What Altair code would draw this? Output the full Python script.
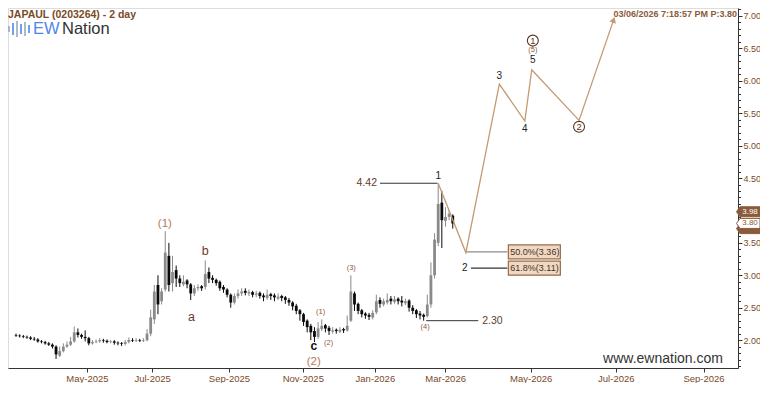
import json
import altair as alt
import pandas as pd

# ---------------- data (2-day bars, bar index = session number) ----------------
first_bar = 3
opens = [2.08, 2.07, 2.06, 2.05, 2.04, 2.02, 2.01, 1.98, 1.97, 1.95,
         1.93, 1.90, 1.76, 1.83, 1.90, 1.93, 1.98, 2.12, 2.08, 2.05,
         2.03, 1.95, 1.97, 1.98, 2.00, 1.99, 1.97, 1.98, 1.96, 1.95,
         1.94, 1.97, 2.00, 1.99, 2.00, 1.99, 2.00, 2.10, 2.32, 2.85,
         2.60, 2.78, 3.30, 2.88, 3.08, 2.95, 2.86, 2.92, 2.86, 2.72,
         2.80, 2.83, 2.82, 3.05, 2.96, 2.93, 2.90, 2.82, 2.78, 2.70,
         2.58, 2.68, 2.72, 2.76, 2.72, 2.74, 2.70, 2.73, 2.69, 2.65,
         2.71, 2.69, 2.64, 2.68, 2.66, 2.62, 2.58, 2.53, 2.46, 2.40,
         2.30, 2.22, 2.14, 2.05, 2.17, 2.23, 2.19, 2.13, 2.16, 2.13,
         2.17, 2.15, 2.30, 2.72, 2.56, 2.46, 2.41, 2.39, 2.35, 2.43,
         2.62, 2.55, 2.58, 2.64, 2.59, 2.64, 2.61, 2.57, 2.61, 2.50,
         2.46, 2.41, 2.39, 2.37, 2.55, 3.00, 3.50, 4.12, 3.84, 3.90,
         3.92]
highs = [2.10, 2.09, 2.08, 2.07, 2.06, 2.05, 2.03, 2.00, 1.99, 1.97,
         1.95, 1.92, 1.90, 1.95, 1.98, 2.05, 2.21, 2.18, 2.10, 2.15,
         2.05, 2.00, 2.01, 2.03, 2.02, 2.01, 2.00, 2.00, 1.98, 1.97,
         2.00, 2.04, 2.03, 2.03, 2.02, 2.03, 2.17, 2.47, 2.85, 3.00,
         2.80, 3.68, 3.50, 3.30, 3.15, 3.00, 3.00, 2.94, 2.88, 2.85,
         2.86, 2.85, 3.23, 3.12, 3.00, 2.95, 2.92, 2.85, 2.80, 2.72,
         2.72, 2.78, 2.80, 2.80, 2.78, 2.76, 2.76, 2.75, 2.72, 2.78,
         2.73, 2.72, 2.72, 2.70, 2.68, 2.65, 2.60, 2.56, 2.48, 2.42,
         2.32, 2.25, 2.20, 2.28, 2.32, 2.25, 2.22, 2.20, 2.18, 2.20,
         2.19, 2.38, 3.00, 2.75, 2.58, 2.48, 2.43, 2.42, 2.46, 2.70,
         2.66, 2.64, 2.72, 2.68, 2.68, 2.66, 2.68, 2.64, 2.63, 2.54,
         2.48, 2.45, 2.41, 2.70, 3.20, 3.65, 4.42, 4.30, 4.05, 4.00,
         3.94]
lows = [2.05, 2.04, 2.03, 2.02, 2.00, 1.99, 1.96, 1.95, 1.93, 1.91,
        1.87, 1.71, 1.74, 1.81, 1.88, 1.91, 1.96, 2.04, 2.02, 1.98,
        1.92, 1.93, 1.95, 1.96, 1.96, 1.95, 1.95, 1.93, 1.92, 1.91,
        1.92, 1.95, 1.97, 1.97, 1.97, 1.97, 1.98, 2.06, 2.25, 2.40,
        2.55, 2.75, 2.75, 2.75, 2.82, 2.82, 2.83, 2.80, 2.62, 2.68,
        2.76, 2.76, 2.78, 2.88, 2.88, 2.84, 2.76, 2.73, 2.66, 2.50,
        2.55, 2.64, 2.68, 2.69, 2.68, 2.66, 2.66, 2.64, 2.60, 2.62,
        2.62, 2.60, 2.62, 2.60, 2.56, 2.53, 2.46, 2.40, 2.30, 2.22,
        2.12, 2.00, 1.97, 2.02, 2.14, 2.12, 2.08, 2.10, 2.10, 2.11,
        2.11, 2.13, 2.28, 2.45, 2.40, 2.35, 2.33, 2.31, 2.32, 2.40,
        2.50, 2.52, 2.55, 2.55, 2.56, 2.55, 2.52, 2.54, 2.44, 2.40,
        2.34, 2.32, 2.30, 2.35, 2.50, 2.95, 3.45, 3.42, 3.75, 3.85,
        3.72]
closes = [2.07, 2.06, 2.05, 2.04, 2.02, 2.01, 1.98, 1.97, 1.95, 1.93,
          1.90, 1.78, 1.83, 1.90, 1.93, 1.98, 2.12, 2.08, 2.05, 2.03,
          1.95, 1.97, 1.98, 2.00, 1.99, 1.97, 1.98, 1.96, 1.95, 1.94,
          1.97, 2.00, 1.99, 2.00, 1.99, 2.00, 2.10, 2.35, 2.75, 2.55,
          2.75, 3.35, 2.85, 3.05, 2.95, 2.88, 2.90, 2.86, 2.72, 2.80,
          2.82, 2.80, 3.02, 2.95, 2.93, 2.88, 2.80, 2.78, 2.70, 2.58,
          2.68, 2.72, 2.75, 2.73, 2.74, 2.70, 2.72, 2.68, 2.66, 2.70,
          2.68, 2.66, 2.67, 2.65, 2.62, 2.58, 2.52, 2.45, 2.40, 2.28,
          2.20, 2.12, 2.05, 2.18, 2.22, 2.18, 2.14, 2.15, 2.14, 2.16,
          2.15, 2.22, 2.75, 2.55, 2.45, 2.40, 2.38, 2.36, 2.42, 2.60,
          2.56, 2.60, 2.62, 2.60, 2.63, 2.60, 2.58, 2.60, 2.50, 2.45,
          2.40, 2.38, 2.36, 2.55, 3.00, 3.55, 4.10, 3.85, 3.90, 3.95,
          3.80]
bars = list(range(first_bar, first_bar + len(closes)))

month_ticks = [22.5, 40.4, 61.5, 81.8, 101.6, 120.9, 144.4, 167.8, 191.9]
month_labels = ["May-2025", "Jul-2025", "Sep-2025", "Nov-2025", "Jan-2026",
                "Mar-2026", "May-2026", "Jul-2026", "Sep-2026"]
price_ticks = [round(1.6 + 0.1 * k, 1) for k in range(56)]
hidden_price_label = 4.0  # covered by the price tags in the reference

# projected Elliott path
proj_bars = [119, 126.6, 135.8, 142.8, 144.7, 157.7, 167.2]
proj_prices = [4.42, 3.35, 5.95, 5.38, 6.17, 5.39, 6.94]

# level lines
level_labels = ["4.42", "2.30"]
level_prices = [4.42, 2.30]
level_from = [103.0, 115.7]
level_to = [118.8, 130.0]

fib_labels = ["50.0%(3.36)", "61.8%(3.11)"]
fib_prices = [3.36, 3.11]
fib_from = [126.6, 128.0]
fib_to = [138.0, 138.0]

# wave labels
big_w_text = ["(1)", "(2)"]
big_w_bar = [43.9, 84.8]
big_w_price = [3.79, 1.67]
small_w_text = ["(1)", "(2)", "(3)", "(4)", "(5)"]
small_w_bar = [86.7, 88.9, 95.1, 115.4, 145.0]
small_w_price = [2.44, 1.95, 3.11, 2.20, 6.47]
abc_text = ["a", "b"]
abc_bar = [51.2, 55.0]
abc_price = [2.36, 3.38]
c_text = ["c"]
c_bar = [84.8]
c_price = [1.91]
num_text = ["1", "2", "3", "4", "5"]
num_bar = [119.0, 126.3, 135.8, 142.8, 145.0]
num_price = [4.53, 3.12, 6.08, 5.26, 6.32]
circ_text = ["1", "2"]
circ_bar = [145.0, 157.7]
circ_price = [6.62, 5.29]

hidden_tag = [3.72]
top_tags = [3.98, 3.80]
top_tag_style = ["fill", "open"]

# ---------------- styling ----------------
FONT = "Liberation Sans"
BROWN = "#7a4a28"
TAN = "#c49a72"
W, H = 730, 360

xs = alt.Scale(domain=[2.17, 200], nice=False, zero=False)
ys = alt.Scale(domain=[1.57, 7.123], nice=False, zero=False)

half_test = "abs(datum.value*2 - round(datum.value*2)) < 0.001"
xaxis = alt.Axis(
    values=month_ticks,
    labelExpr=f"{json.dumps(month_labels)}[indexof({json.dumps(month_ticks)}, datum.value)]",
    title=None, grid=False, tickSize=4, tickColor="#333", domainColor="#333",
    labelColor=BROWN, labelFontSize=9.5, labelFont=FONT, labelPadding=1,
    labelOverlap=False, labelFlush=False,
)
yaxis = alt.Axis(
    orient="right", values=price_ticks,
    labelExpr=(f"({half_test}) && abs(datum.value - {hidden_price_label}) > 0.001"
               " ? format(datum.value, '.2f') : ''"),
    tickSize={"condition": {"test": half_test, "value": 4}, "value": 2.5},
    title=None, grid=False, tickColor="#333", domainColor="#333",
    labelColor=BROWN, labelFontSize=9, labelFont=FONT, labelPadding=1,
    labelOverlap=False, labelFlush=False,
)


def X(f):
    return alt.X(f, type="quantitative", scale=xs, axis=xaxis)


def Y(f):
    return alt.Y(f, type="quantitative", scale=ys, axis=yaxis)


candles = pd.DataFrame({"bar": bars, "open": opens, "high": highs,
                        "low": lows, "close": closes})
candles["dir"] = ["up" if c >= o else "down" for o, c in zip(opens, closes)]
col = alt.Color("dir:N", scale=alt.Scale(domain=["up", "down"],
                                         range=["#8a8a8a", "#0a0a0a"]), legend=None)

base = alt.Chart(candles)
wicks = base.mark_rule(strokeWidth=1).encode(x=X("bar"), y=Y("low"), y2="high", color=col)
bodies = base.mark_bar(width=2.8).encode(x=X("bar"), y=Y("open"), y2="close", color=col)

levels = pd.DataFrame({"t": level_labels, "p": level_prices, "a": level_from, "b": level_to})
level_lines = alt.Chart(levels).mark_rule(color="#333", strokeWidth=1).encode(
    x=X("a"), x2="b", y=Y("p"))
level_txt_4 = alt.Chart(levels.iloc[[0]]).mark_text(
    align="right", baseline="middle", dx=-3, fontSize=10.5, font=FONT, color="#5e3d26"
).encode(x=X("a"), y=Y("p"), text="t:N")
level_txt_2 = alt.Chart(levels.iloc[[1]]).mark_text(
    align="left", baseline="middle", dx=4, fontSize=10.5, font=FONT, color="#5e3d26"
).encode(x=X("b"), y=Y("p"), text="t:N")

fibs = pd.DataFrame({"t": fib_labels, "p": fib_prices, "a": fib_from, "b": fib_to})
fib_lines = alt.Chart(fibs).mark_rule(strokeWidth=1.2).encode(
    x=X("a"), x2="b", y=Y("p"),
    color=alt.Color("t:N", scale=alt.Scale(domain=fib_labels, range=["#8a8a8a", "#333"]),
                    legend=None))
fib_txt = alt.Chart(fibs).mark_text(
    align="left", baseline="middle", dx=3, fontSize=9, font=FONT, color="#4a3020"
).encode(x=X("b"), y=Y("p"), text="t:N")
fib_rect = alt.Chart(fibs).mark_point(
    shape="M-1,-0.27L1,-0.27L1,0.27L-1,0.27Z", size=2704, filled=True,
    fill="#efd9c4", stroke="#9a6b48", strokeWidth=1.2, opacity=1, xOffset=27
).encode(x=X("b"), y=Y("p"))

proj = pd.DataFrame({"bar": proj_bars, "p": proj_prices})
proj_line = alt.Chart(proj).mark_line(color=TAN, strokeWidth=1.3).encode(x=X("bar"), y=Y("p"))
arrow = alt.Chart(proj.iloc[[-1]]).mark_point(
    shape="triangle-up", angle=19, size=45, filled=True, color=TAN, opacity=1
).encode(x=X("bar"), y=Y("p"))


def text_layer(texts, xb, yp, **kw):
    d = pd.DataFrame({"t": texts, "bar": xb, "p": yp})
    return alt.Chart(d).mark_text(baseline="middle", align="center", font=FONT, **kw).encode(
        x=X("bar"), y=Y("p"), text="t:N")


big_w = text_layer(big_w_text, big_w_bar, big_w_price, fontSize=11.5, color="#b27a52")
small_w = text_layer(small_w_text, small_w_bar, small_w_price, fontSize=7.5, color="#8a5a3a")
abc = text_layer(abc_text, abc_bar, abc_price, fontSize=12.5, color="#6b3a1e")
c_lab = text_layer(c_text, c_bar, c_price, fontSize=12, fontWeight="bold", color="#111")
nums = text_layer(num_text, num_bar, num_price, fontSize=10, color="#222")

circ = pd.DataFrame({"t": circ_text, "bar": circ_bar, "p": circ_price})
circ_pts = alt.Chart(circ).mark_point(
    shape="circle", size=120, filled=False, stroke="#5a3520", strokeWidth=1.1, opacity=1
).encode(x=X("bar"), y=Y("p"))
circ_txt = text_layer(circ_text, circ_bar, circ_price, fontSize=9.5, color="#5a3520")

# price tags on the right axis
TAG_X = W + 12
tag_shape = "M-1.35,0L-1,-0.5L1,-0.5L1,0.5L-1,0.5Z"
hid = pd.DataFrame({"v": hidden_tag})
hid_box = alt.Chart(hid).mark_point(
    shape=tag_shape, size=400, filled=True, opacity=1, fill="#8b5a3a",
    stroke="#8b5a3a", strokeWidth=1
).encode(x=alt.value(TAG_X), y=Y("v"))

tags = pd.DataFrame({"v": top_tags, "s": top_tag_style, "t": [f"{v:.2f}" for v in top_tags]})
tag_box = alt.Chart(tags).mark_point(
    shape=tag_shape, size=400, filled=True, opacity=1, stroke="#8b5a3a", strokeWidth=1
).encode(
    x=alt.value(TAG_X), y=Y("v"),
    fill=alt.Fill("s:N", scale=alt.Scale(domain=["fill", "open"], range=["#8b5a3a", "#ffffff"]),
                  legend=None),
)
tag_text = alt.Chart(tags).mark_text(
    baseline="middle", align="center", fontSize=8, font=FONT
).encode(
    x=alt.value(TAG_X), y=Y("v"), text="t:N",
    color=alt.Color("s:N", scale=alt.Scale(domain=["fill", "open"], range=["#ffffff", "#8b5a3a"]),
                    legend=None),
)

# header / branding
one = pd.DataFrame({"k": [0]})
title_txt = alt.Chart(one).mark_text(
    text="JAPAUL (0203264) - 2 day", align="left", baseline="middle",
    fontSize=10.5, fontWeight="bold", font=FONT, color=BROWN
).encode(x=alt.value(0), y=alt.value(7))
stamp_txt = alt.Chart(one).mark_text(
    text="03/06/2026 7:18:57 PM  P:3.80", align="right", baseline="middle",
    fontSize=9, fontWeight="bold", font=FONT, color="#8a5a3a"
).encode(x=alt.value(729), y=alt.value(6))
logo_ew = alt.Chart(one).mark_text(
    text="EW", align="left", baseline="middle", fontSize=16.5, font=FONT, color="#4f86ea"
).encode(x=alt.value(25), y=alt.value(21))
logo_nat = alt.Chart(one).mark_text(
    text="Nation", align="left", baseline="middle", fontSize=16.5, font=FONT, color="#333"
).encode(x=alt.value(54), y=alt.value(21))
icon = pd.DataFrame({"x": [1, 5, 9, 13, 17, 21], "h": [3, 6, 8, 5, 7, 4],
                     "c": ["#9ab", "#4f86ea", "#9ab", "#4f86ea", "#9ab", "#4f86ea"]})
icon["y1"] = 21 - icon["h"]
icon["y2"] = 21 + icon["h"]
logo_icon = alt.Chart(icon).mark_rule(strokeWidth=1.6).encode(
    x=alt.X("x:Q", scale=None), y=alt.Y("y1:Q", scale=None), y2="y2:Q",
    color=alt.Color("c:N", scale=None))
site_txt = alt.Chart(one).mark_text(
    text="www.ewnation.com", align="center", baseline="middle",
    fontSize=14, font=FONT, color="#333"
).encode(x=alt.value(655), y=alt.value(H - 9))

chart = alt.layer(
    wicks, bodies, level_lines, fib_lines, proj_line, arrow,
    fib_rect, fib_txt, level_txt_4, level_txt_2,
    big_w, small_w, abc, c_lab, nums, circ_pts, circ_txt,
    hid_box, tag_box, tag_text,
    title_txt, stamp_txt, logo_icon, logo_ew, logo_nat, site_txt,
).resolve_scale(color="independent", fill="independent").properties(
    width=W, height=H,
    autosize=alt.AutoSizeParams(type="none"),
    padding={"left": 0, "top": 0, "right": 22, "bottom": 15},
    background="white",
).configure_view(stroke="#444", strokeWidth=1).configure(font=FONT)

chart.save("out.html", embed_options={"renderer": "svg", "actions": False})
